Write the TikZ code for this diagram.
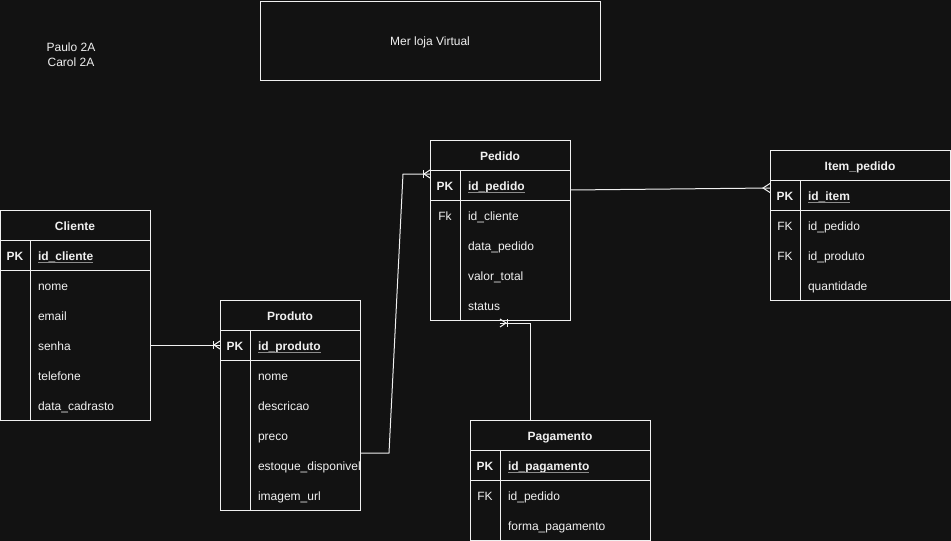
\documentclass[tikz,border=0pt]{standalone}
\usepackage{fontspec}
\setmainfont{Liberation Sans}
\definecolor{bg}{HTML}{121212}
\definecolor{fg}{HTML}{F0F0F0}
\definecolor{ln}{HTML}{F0F0F0}
\definecolor{ulc}{HTML}{8C8C8C}
\begin{document}
\begin{tikzpicture}[x=1pt,y=-1pt,
  every node/.style={font=\fontsize{12}{14}\selectfont, text=fg, inner sep=0pt, outer sep=0pt},
  tblbox/.style={draw=ln, line width=1pt, rectangle},
  rowbox/.style={rectangle, minimum height=30pt},
  grid/.style={draw=ln, line width=1pt},
  hdr/.style={anchor=base, yshift=-1pt, font=\fontsize{12}{14}\selectfont\bfseries},
  pkkey/.style={anchor=base, yshift=-1pt, font=\fontsize{12}{14}\selectfont\bfseries},
  fkkey/.style={anchor=base, yshift=-1pt},
  fld/.style={anchor=base west, yshift=-1pt},
  pkfld/.style={anchor=base west, yshift=-1pt, font=\fontsize{12}{14}\selectfont\bfseries},
  ulstyle/.style={draw=ulc, line width=1pt},
  conn/.style={draw=ln, line width=1pt},
  plain/.style={anchor=base, yshift=-0.5pt}]
\fill[bg] (0,0) rectangle (951,541);
\useasboundingbox (0,0) rectangle (951,541);

% notes and title
\node[plain] (n1) at (71,51) {Paulo 2A};
\node[plain] (n2) at (71,65.5) {Carol 2A};
\node[tblbox, minimum width=340pt, minimum height=79pt] (title) at (430,40.5) {};
\node[plain] (titletxt) at (430,44.5) {Mer loja Virtual};

% ---------- Cliente ----------
\node[tblbox, minimum width=149.5pt, minimum height=210pt] (cli) at (75.25,315) {};
\draw[grid] (0.5,240) -- (150,240) (0.5,270) -- (150,270) (30,240) -- (30,420);
\node[rowbox, minimum width=149.5pt] (cli-senha) at (75.25,345) {};
\node[hdr] (cli-h) at (75,229.5) {Cliente};
\node[pkkey] (cli-pkk) at (15,259.5) {PK};
\node[pkfld] (cli-pk) at (38,259.5) {id\_cliente};
\node[fld] (cli-f1) at (38,289.5) {nome};
\node[fld] (cli-f2) at (38,319.5) {email};
\node[fld] (cli-f3) at (38,349.5) {senha};
\node[fld] (cli-f4) at (38,379.5) {telefone};
\node[fld] (cli-f5) at (38,409.5) {data\_cadrasto};
\draw[ulstyle] ([yshift=-1.5pt]cli-pk.base west) -- ([yshift=-1.5pt]cli-pk.base east);

% ---------- Produto ----------
\node[tblbox, minimum width=140pt, minimum height=210pt] (prod) at (290,405) {};
\draw[grid] (220,330) -- (360,330) (220,360) -- (360,360) (250,330) -- (250,510);
\node[rowbox, minimum width=140pt] (prod-pkrow) at (290,345) {};
\node[rowbox, minimum width=140pt] (prod-est) at (290,465) {};
\node[hdr] (prod-h) at (290,319.5) {Produto};
\node[pkkey] (prod-pkk) at (235,349.5) {PK};
\node[pkfld] (prod-pk) at (258,349.5) {id\_produto};
\node[fld] (prod-f1) at (258,379.5) {nome};
\node[fld] (prod-f2) at (258,409.5) {descricao};
\node[fld] (prod-f3) at (258,439.5) {preco};
\node[fld] (prod-f4) at (258,469.5) {estoque\_disponivel};
\node[fld] (prod-f5) at (258,499.5) {imagem\_url};
\draw[ulstyle] ([yshift=-1.5pt]prod-pk.base west) -- ([yshift=-1.5pt]prod-pk.base east);

% ---------- Pedido ----------
\node[tblbox, minimum width=140pt, minimum height=180pt] (ped) at (500,230) {};
\draw[grid] (430,170) -- (570,170) (430,200) -- (570,200) (460,170) -- (460,320);
\node[rowbox, minimum width=140pt] (ped-pkrow) at (500,185) {};
\node[hdr] (ped-h) at (500,159.5) {Pedido};
\node[pkkey] (ped-pkk) at (445,189.5) {PK};
\node[pkfld] (ped-pk) at (468,189.5) {id\_pedido};
\node[fkkey] (ped-fkk) at (445,219.5) {Fk};
\node[fld] (ped-f1) at (468,219.5) {id\_cliente};
\node[fld] (ped-f2) at (468,249.5) {data\_pedido};
\node[fld] (ped-f3) at (468,279.5) {valor\_total};
\node[fld] (ped-f4) at (468,309.5) {status};
\draw[ulstyle] ([yshift=-1.5pt]ped-pk.base west) -- ([yshift=-1.5pt]ped-pk.base east);

% ---------- Item_pedido ----------
\node[tblbox, minimum width=180pt, minimum height=150pt] (item) at (860,225) {};
\draw[grid] (770,180) -- (950,180) (770,210) -- (950,210) (800,180) -- (800,300);
\node[rowbox, minimum width=180pt] (item-pkrow) at (860,195) {};
\node[hdr] (item-h) at (860,169.5) {Item\_pedido};
\node[pkkey] (item-pkk) at (785,199.5) {PK};
\node[pkfld] (item-pk) at (808,199.5) {id\_item};
\node[fkkey] (item-fk1) at (785,229.5) {FK};
\node[fld] (item-f1) at (808,229.5) {id\_pedido};
\node[fkkey] (item-fk2) at (785,259.5) {FK};
\node[fld] (item-f2) at (808,259.5) {id\_produto};
\node[fld] (item-f3) at (808,289.5) {quantidade};
\draw[ulstyle] ([yshift=-1.5pt]item-pk.base west) -- ([yshift=-1.5pt]item-pk.base east);

% ---------- Pagamento ----------
\node[tblbox, minimum width=180pt, minimum height=120pt] (pag) at (560,480) {};
\draw[grid] (470,450) -- (650,450) (470,480) -- (650,480) (500,450) -- (500,540);
\node[hdr] (pag-h) at (560,439.5) {Pagamento};
\node[pkkey] (pag-pkk) at (485,469.5) {PK};
\node[pkfld] (pag-pk) at (508,469.5) {id\_pagamento};
\node[fkkey] (pag-fkk) at (485,499.5) {FK};
\node[fld] (pag-f1) at (508,499.5) {id\_pedido};
\node[fld] (pag-f2) at (508,529.5) {forma\_pagamento};
\draw[ulstyle] ([yshift=-1.5pt]pag-pk.base west) -- ([yshift=-1.5pt]pag-pk.base east);

% ---------- connectors ----------
% Cliente -> Produto (one to many)
\draw[conn] (cli-senha.east) -- (prod-pkrow.west);
\draw[conn] ([xshift=-7pt,yshift=4pt]prod-pkrow.west) -- ([xshift=-7pt,yshift=-4pt]prod-pkrow.west);
\draw[conn] ([yshift=4pt]prod-pkrow.west) -- ([xshift=-6pt]prod-pkrow.west) -- ([yshift=-4pt]prod-pkrow.west);

% Produto -> Pedido (one to many)
\draw[conn] ([yshift=12pt]prod-est.east) -- ++(29,0) -- ([xshift=-27pt,yshift=11pt]ped-pkrow.west) -- ([yshift=11pt]ped-pkrow.west);
\draw[conn] ([xshift=-7pt,yshift=15pt]ped-pkrow.west) -- ([xshift=-7pt,yshift=7pt]ped-pkrow.west);
\draw[conn] ([yshift=15pt]ped-pkrow.west) -- ([xshift=-6pt,yshift=11pt]ped-pkrow.west) -- ([yshift=7pt]ped-pkrow.west);

% Pedido -> Item_pedido (many)
\draw[conn] ([yshift=-5pt]ped-pkrow.east) -- ([yshift=7pt]item-pkrow.west);
\draw[conn] ([yshift=11.5pt]item-pkrow.west) -- ([xshift=-7pt,yshift=7pt]item-pkrow.west) -- ([yshift=2.5pt]item-pkrow.west);

% Pagamento -> Pedido (one to many)
\draw[conn] ([xshift=-30pt]pag.north) -- ([xshift=30pt,yshift=-3pt]ped.south) -- ([yshift=-3pt]ped.south);
\draw[conn] ([xshift=7pt,yshift=1pt]ped.south) -- ([xshift=7pt,yshift=-7pt]ped.south);
\draw[conn] ([yshift=1pt]ped.south) -- ([xshift=6pt,yshift=-3pt]ped.south) -- ([yshift=-7pt]ped.south);
\end{tikzpicture}
\end{document}
